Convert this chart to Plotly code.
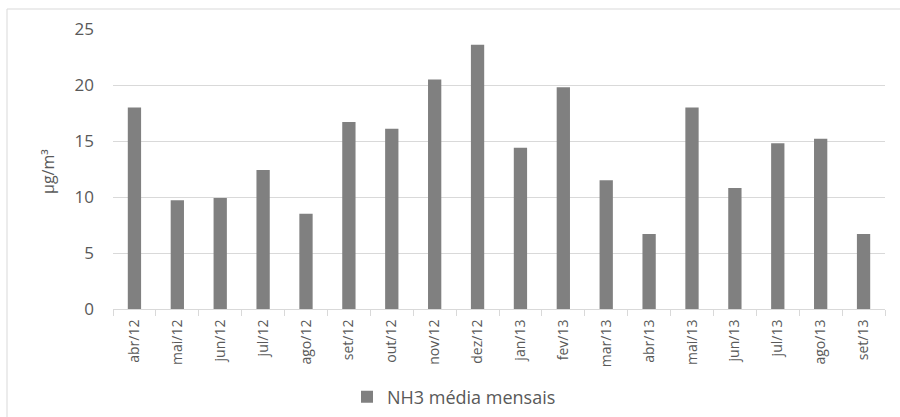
import plotly.graph_objects as go

months = ["abr/12", "mai/12", "jun/12", "jul/12", "ago/12", "set/12", "out/12", "nov/12", "dez/12",
          "jan/13", "fev/13", "mar/13", "abr/13", "mai/13", "jun/13", "jul/13", "ago/13", "set/13"]
nh3 = [18.0, 9.7, 9.9, 12.4, 8.5, 16.7, 16.1, 20.5, 23.6,
       14.4, 19.8, 11.5, 6.7, 18.0, 10.8, 14.8, 15.2, 6.7]
series_name = "NH3 média mensais"
y_title = "µg/m³"
y_ticks = [0, 5, 10, 15, 20, 25]

FONT = "Open Sans"
TXT = "#595959"

fig = go.Figure()
fig.add_trace(go.Bar(x=months, y=nh3, name=series_name, marker=dict(color="#808080", line=dict(width=0)),
                     showlegend=True))

L, R, T, B = 113, 15, 29, 108
W, H = 900, 417
pw, ph = W - L - R, H - T - B

fig.update_layout(
    width=W, height=H,
    margin=dict(l=L, r=R, t=T, b=B, autoexpand=False),
    paper_bgcolor="white", plot_bgcolor="white",
    bargap=0.69,
    font=dict(family=FONT, color=TXT, size=14),
    showlegend=True,
    legend=dict(orientation="h", x=(347 - L) / pw, xanchor="left", y=(T + ph - 397) / ph, yanchor="middle",
                font=dict(size=18, color=TXT), itemwidth=30),
    xaxis=dict(type="category", showgrid=False, showline=True, linecolor="#d9d9d9", linewidth=1,
               ticks="outside", tickson="boundaries", ticklen=6, tickcolor="#d9d9d9",
               tickangle=-90, tickfont=dict(size=14, color=TXT), ticklabelstandoff=4, automargin=False),
    yaxis=dict(range=[0, 25], tickvals=y_ticks, showgrid=True, gridcolor="#d9d9d9", gridwidth=1,
               zeroline=False, showline=False, ticks="", tickfont=dict(size=17, color=TXT),
               ticklabelstandoff=18, automargin=False),
    annotations=[dict(text=y_title, textangle=-90, xref="paper", yref="paper",
                      x=(48 - L) / pw, xanchor="center", y=(T + ph - 172) / ph, yanchor="middle",
                      showarrow=False, font=dict(size=16, color=TXT))],
    shapes=[dict(type="rect", xref="paper", yref="paper",
                 x0=(7 - L) / pw, x1=(905 - L) / pw, y0=(T + ph - 425) / ph, y1=1 + (T - 9) / ph,
                 line=dict(color="#d9d9d9", width=1), layer="below")],
)

fig.write_html("out.html")
